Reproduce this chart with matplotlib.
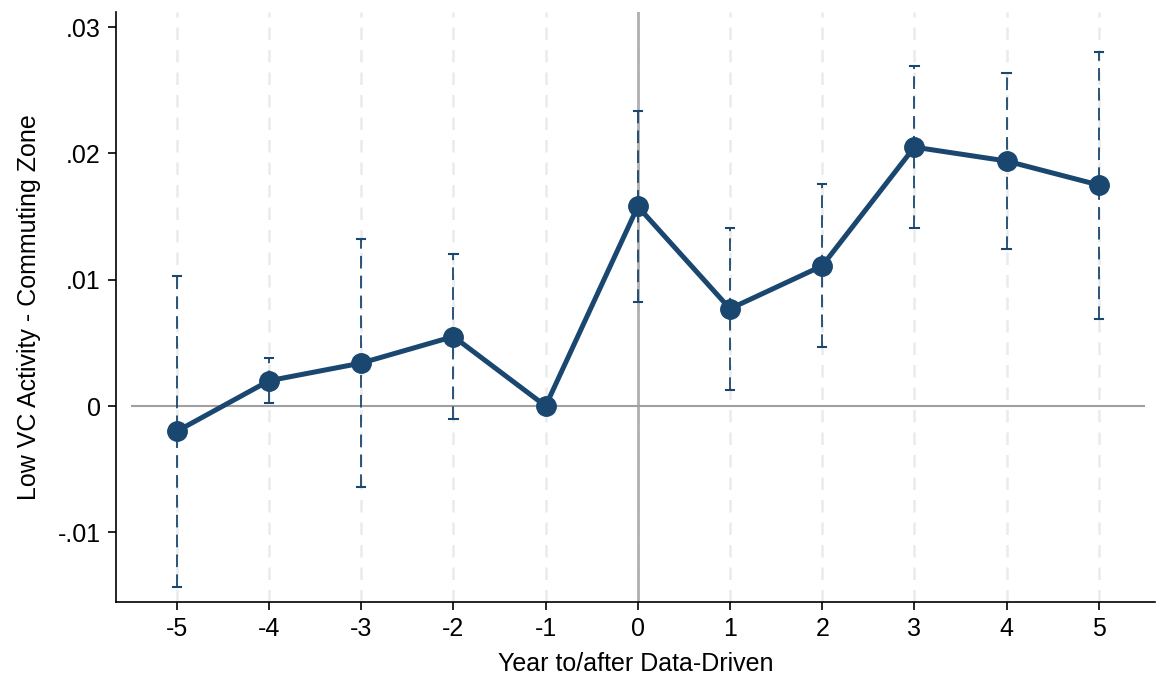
import matplotlib
matplotlib.use("Agg")
import matplotlib.pyplot as plt

years = [-5, -4, -3, -2, -1, 0, 1, 2, 3, 4, 5]
coef = [-0.0020, 0.0020, 0.0034, 0.0055, 0.0, 0.0158, 0.0077, 0.0111, 0.0205, 0.0194, 0.0175]
ci_low = [-0.0143, 0.0002, -0.0064, -0.0010, None, 0.0082, 0.0013, 0.0047, 0.0141, 0.0124, 0.0069]
ci_high = [0.0103, 0.0038, 0.0132, 0.0120, None, 0.0234, 0.0141, 0.0176, 0.0269, 0.0264, 0.0280]
yticks = [-0.01, 0.0, 0.01, 0.02, 0.03]
ytick_labels = ["-.01", "0", ".01", ".02", ".03"]

plt.rcParams['font.family'] = ['Liberation Sans', 'DejaVu Sans']
navy = '#1a476f'

fig = plt.figure(figsize=(11.56, 6.75), dpi=100)
ax = fig.add_axes([116/1156, 73/675, (1155-116)/1156, (602-12)/675])

for x in years:
    ax.axvline(x, color='#ebebeb', lw=1.8, ls=(0, (5, 4)), zorder=0)
ax.axvline(0, color='#b0b0b0', lw=2, zorder=1)
ax.hlines(0, -5.5, 5.5, color='#a0a0a0', lw=1.5, zorder=1)

for x, lo, hi in zip(years, ci_low, ci_high):
    if lo is None:
        continue
    ax.plot([x, x], [lo, hi], color=navy, lw=1.3, ls=(0, (7, 4)), zorder=2)
    ax.plot([x - 0.045, x + 0.045], [lo, lo], color=navy, lw=1.5, zorder=2)
    ax.plot([x - 0.045, x + 0.045], [hi, hi], color=navy, lw=1.5, zorder=2)

ax.plot(years, coef, color=navy, lw=3.6, marker='o', ms=14, zorder=3)

ax.set_xlim(-5.66, 5.61)
ax.set_ylim(-0.01552, 0.0312)
ax.set_xticks(years)
ax.set_xticklabels([str(y) for y in years])
ax.set_yticks(yticks)
ax.set_yticklabels(ytick_labels)
ax.tick_params(axis='both', labelsize=18, length=6, width=1.2, color='black', pad=5)
for s in ['top', 'right']:
    ax.spines[s].set_visible(False)
for s in ['left', 'bottom']:
    ax.spines[s].set_linewidth(1.2)
ax.set_xlabel("Year to/after Data-Driven", fontsize=18, labelpad=8)
ax.set_ylabel("Low VC Activity - Commuting Zone", fontsize=18, labelpad=12)

fig.savefig("out.png", dpi=100)
